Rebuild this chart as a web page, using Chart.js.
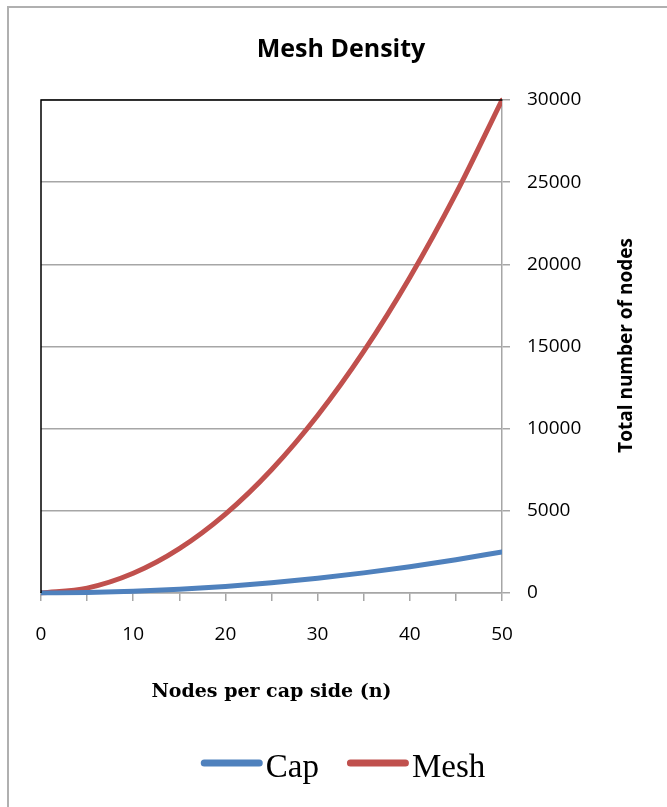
<!DOCTYPE html>
<html>
<head>
<meta charset="utf-8">
<script src="https://cdn.jsdelivr.net/npm/chart.js@4"></script>
<style>
  html, body { margin: 0; padding: 0; background: #fff; overflow: hidden; }
  #wrap { position: relative; width: 667px; height: 807px; }
  #frame { position: absolute; left: 7px; top: 6px; width: 700px; height: 850px; border: 2px solid #b0b0b0; box-sizing: border-box; }
  canvas { position: absolute; left: 0; top: 0; }
</style>
</head>
<body>
<div id="wrap">
  <div id="frame"></div>
  <canvas id="mainChart" width="667" height="807"></canvas>
</div>
<script>
// data
const nodesPerSide = [0, 5, 10, 15, 20, 25, 30, 35, 40, 45, 50];
const capNodes = [0, 25, 100, 225, 400, 625, 900, 1225, 1600, 2025, 2500];
const meshNodes = [0, 300, 1200, 2700, 4800, 7500, 10800, 14700, 19200, 24300, 30000];
const yTicks = [0, 5000, 10000, 15000, 20000, 25000, 30000];

const toPoints = (ys) => nodesPerSide.map((x, i) => ({ x: x, y: ys[i] }));

const sans = "'Open Sans', 'Noto Sans', sans-serif";
const serif = "'Liberation Serif', 'DejaVu Serif', serif";

// black top + left border, y title reading upwards, and the legend (text right after the line)
const extras = {
    id: 'extras',
    afterDraw(chart) {
        const { ctx, chartArea: a } = chart;
        ctx.save();
        ctx.strokeStyle = '#000';
        ctx.lineWidth = 1.5;
        ctx.beginPath();
        ctx.moveTo(a.left, a.bottom);
        ctx.lineTo(a.left, a.top);
        ctx.lineTo(a.right + 0.5, a.top);
        ctx.stroke();
        ctx.restore();

        ctx.save();
        ctx.translate(627, (a.top + a.bottom) / 2 - 1);
        ctx.rotate(-Math.PI / 2);
        ctx.fillStyle = '#000';
        ctx.font = "bold 19px " + sans;
        ctx.textAlign = 'center';
        ctx.textBaseline = 'middle';
        ctx.fillText('Total number of nodes', 0, 0);
        ctx.restore();

        // legend
        ctx.save();
        ctx.font = "33px " + serif;
        const lineLen = 62, gapText = 3, gapItem = 28, y = 763;
        const items = chart.data.datasets.map(d => ({ label: d.label, color: d.borderColor, w: ctx.measureText(d.label).width }));
        const total = items.reduce((s, it) => s + lineLen + gapText + it.w, 0) + gapItem * (items.length - 1);
        let x = 343 - total / 2;
        items.forEach(it => {
            ctx.strokeStyle = it.color;
            ctx.lineWidth = 7;
            ctx.lineCap = 'round';
            ctx.beginPath();
            ctx.moveTo(x + 3.5, y);
            ctx.lineTo(x + lineLen - 3.5, y);
            ctx.stroke();
            ctx.fillStyle = '#000';
            ctx.textBaseline = 'alphabetic';
            ctx.fillText(it.label, x + lineLen + gapText, 777);
            x += lineLen + gapText + it.w + gapItem;
        });
        ctx.restore();
    }
};

const ctx = document.getElementById('mainChart').getContext('2d');
new Chart(ctx, {
    type: 'line',
    data: {
        datasets: [
            { label: 'Cap', data: toPoints(capNodes), borderColor: '#4F81BD', backgroundColor: '#4F81BD',
              borderWidth: 5, pointRadius: 0, cubicInterpolationMode: 'monotone', borderCapStyle: 'round' },
            { label: 'Mesh', data: toPoints(meshNodes), borderColor: '#C0504D', backgroundColor: '#C0504D',
              borderWidth: 5, pointRadius: 0, cubicInterpolationMode: 'monotone', borderCapStyle: 'round' }
        ]
    },
    options: {
        responsive: false,
        animation: false,
        layout: { padding: { top: 0, left: 15, right: 0, bottom: 68 } },
        plugins: {
            tooltip: { enabled: false },
            legend: { display: false },
            title: {
                display: true,
                text: 'Mesh Density',
                color: '#000',
                font: { family: sans, size: 25, weight: 'bold' },
                padding: { top: 35, bottom: 35 }
            }
        },
        scales: {
            yl: {
                position: 'left',
                display: true,
                grid: { display: false },
                border: { display: false },
                ticks: { display: false },
                afterFit: (s) => { s.width = 26; }
            },
            x: {
                type: 'linear',
                min: 0,
                max: 50,
                border: { display: true, color: '#a6a6a6', width: 1.5 },
                grid: { drawOnChartArea: false, drawTicks: true, tickLength: 8, color: '#a6a6a6', lineWidth: 1.5 },
                ticks: {
                    stepSize: 5,
                    autoSkip: false,
                    maxRotation: 0,
                    padding: 22,
                    color: '#000',
                    font: { family: sans, size: 19 },
                    callback: (v) => (v % 10 === 0 ? String(v) : '')
                },
                title: {
                    display: true,
                    text: 'Nodes per cap side (n)',
                    color: '#000',
                    font: { family: "'DejaVu Serif', serif", size: 19, weight: 'bold' },
                    padding: { top: 4, bottom: 36 }
                },
                afterFit: (s) => { s.height = 146; }
            },
            y: {
                type: 'linear',
                position: 'right',
                min: 0,
                max: 30000,
                border: { display: true, color: '#a6a6a6', width: 1.5 },
                grid: { color: '#a6a6a6', lineWidth: 1.5, tickLength: 8 },
                afterBuildTicks: (s) => { s.ticks = yTicks.map(v => ({ value: v })); },
                ticks: {
                    padding: 17,
                    color: '#000',
                    font: { family: sans, size: 19 },
                    callback: (v) => String(v)
                },
                afterFit: (s) => { s.width = 165; }
            }
        }
    },
    plugins: [extras]
});
</script>
</body>
</html>
